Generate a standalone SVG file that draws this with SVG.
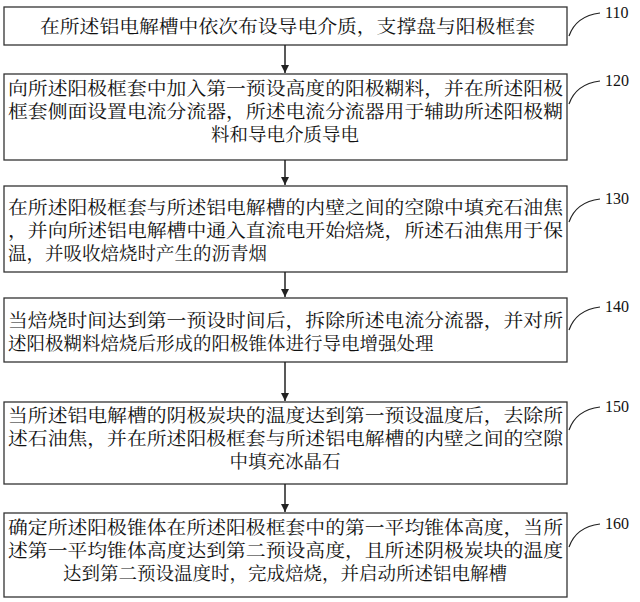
<svg xmlns="http://www.w3.org/2000/svg" width="640" height="602" viewBox="0 0 640 602">
<style>
.b{fill:#fff;stroke:#333;stroke-width:1.3}
.t{font-family:"Noto Serif CJK SC","Noto Sans CJK SC",serif;font-size:18.5px;fill:#111}
.c{text-anchor:middle}
.n{font-family:"Liberation Serif",serif;font-size:16px;fill:#111}
.l{fill:none;stroke:#222;stroke-width:1.5}
.a{stroke:#222;stroke-width:1.2;fill:none}
</style>
<defs><marker id="ar" markerWidth="10" markerHeight="10" refX="8" refY="4" orient="auto" markerUnits="userSpaceOnUse"><path d="M0,0 L8,4 L0,8 z" fill="#222"/></marker></defs>
<rect width="640" height="602" fill="#fff"/>
<g id="n110"><rect class="b" x="4" y="7" width="563" height="38"/><text class="t" x="40" y="33" textLength="495" lengthAdjust="spacingAndGlyphs">在所述铝电解槽中依次布设导电介质，支撑盘与阳极框套</text></g>
<g id="n120"><rect class="b" x="4" y="74" width="563" height="86"/>
<text class="t" x="8" y="95" textLength="555" lengthAdjust="spacingAndGlyphs">向所述阳极框套中加入第一预设高度的阳极糊料，并在所述阳极</text>
<text class="t" x="8" y="118" textLength="555" lengthAdjust="spacingAndGlyphs">框套侧面设置电流分流器，所述电流分流器用于辅助所述阳极糊</text>
<text class="t c" x="285" y="141">料和导电介质导电</text></g>
<g id="n130"><rect class="b" x="4" y="186" width="563" height="86"/>
<text class="t" x="8" y="214" textLength="555" lengthAdjust="spacingAndGlyphs">在所述阳极框套与所述铝电解槽的内壁之间的空隙中填充石油焦</text>
<text class="t" x="8" y="237" textLength="555" lengthAdjust="spacingAndGlyphs">，并向所述铝电解槽中通入直流电开始焙烧，所述石油焦用于保</text>
<text class="t" x="8" y="260">温，并吸收焙烧时产生的沥青烟</text></g>
<g id="n140"><rect class="b" x="4" y="298" width="563" height="64"/>
<text class="t" x="8" y="327" textLength="555" lengthAdjust="spacingAndGlyphs">当焙烧时间达到第一预设时间后，拆除所述电流分流器，并对所</text>
<text class="t" x="8" y="350">述阳极糊料焙烧后形成的阳极锥体进行导电增强处理</text></g>
<g id="n150"><rect class="b" x="4" y="402" width="563" height="82"/>
<text class="t" x="8" y="422" textLength="555" lengthAdjust="spacingAndGlyphs">当所述铝电解槽的阴极炭块的温度达到第一预设温度后，去除所</text>
<text class="t" x="8" y="445" textLength="555" lengthAdjust="spacingAndGlyphs">述石油焦，并在所述阳极框套与所述铝电解槽的内壁之间的空隙</text>
<text class="t c" x="285" y="468">中填充冰晶石</text></g>
<g id="n160"><rect class="b" x="4" y="513" width="563" height="84"/>
<text class="t" x="8" y="534" textLength="555" lengthAdjust="spacingAndGlyphs">确定所述阳极锥体在所述阳极框套中的第一平均锥体高度，当所</text>
<text class="t" x="8" y="557" textLength="555" lengthAdjust="spacingAndGlyphs">述第一平均锥体高度达到第二预设高度，且所述阴极炭块的温度</text>
<text class="t c" x="285" y="580">达到第二预设温度时，完成焙烧，并启动所述铝电解槽</text></g>
<g id="connectors">
<line class="l" x1="285" y1="45" x2="285" y2="73" marker-end="url(#ar)"/>
<line class="l" x1="285" y1="160" x2="285" y2="185" marker-end="url(#ar)"/>
<line class="l" x1="285" y1="272" x2="285" y2="297" marker-end="url(#ar)"/>
<line class="l" x1="285" y1="362" x2="285" y2="401" marker-end="url(#ar)"/>
<line class="l" x1="285" y1="484" x2="285" y2="512" marker-end="url(#ar)"/>
<path class="a" d="M569,36 Q576,16 600,13"/>
<path class="a" d="M569,104 Q576,84 600,81"/>
<path class="a" d="M569,222 Q576,202 600,199"/>
<path class="a" d="M569,330 Q576,310 600,307"/>
<path class="a" d="M569,430 Q576,410 600,407"/>
<path class="a" d="M569,547 Q576,527 600,524"/>
</g>
<text class="n" x="605" y="18">110</text>
<text class="n" x="605" y="86">120</text>
<text class="n" x="605" y="204">130</text>
<text class="n" x="605" y="312">140</text>
<text class="n" x="605" y="412">150</text>
<text class="n" x="605" y="529">160</text>
</svg>
